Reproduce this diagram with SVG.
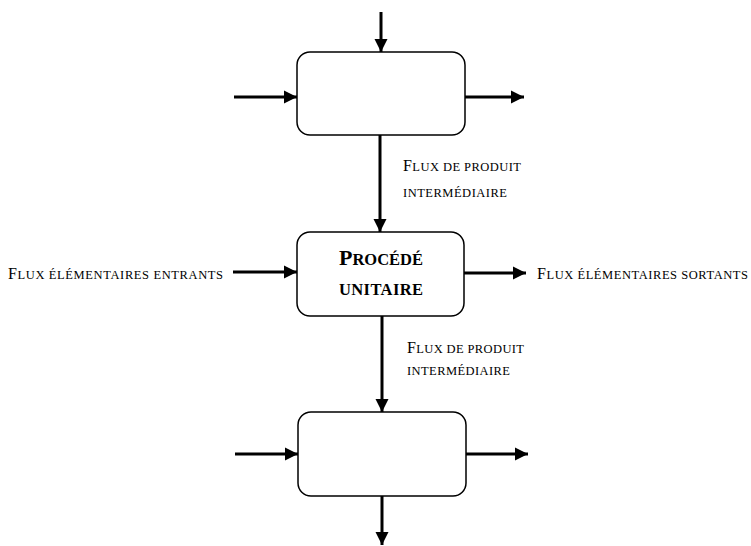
<svg xmlns="http://www.w3.org/2000/svg" width="751" height="546" viewBox="0 0 751 546">
  <style>
    .box { fill: #ffffff; stroke: #000000; stroke-width: 1.5; }
    .flow { stroke: #000000; stroke-width: 3; fill: none; marker-end: url(#arrow); }
    .lbl { font-family: "Liberation Serif", "Times New Roman", serif; font-size: 16px; fill: #000000; }
    .lbl .sc { font-size: 12.5px; }
    .title { font-family: "Liberation Serif", "Times New Roman", serif; font-size: 22px; font-weight: bold; fill: #000000; }
    .title .sc { font-size: 16.5px; }
  </style>
  <defs>
    <marker id="arrow" viewBox="0 0 10 10" refX="10" refY="5" markerWidth="4.5" markerHeight="4.5" markerUnits="strokeWidth" orient="auto">
      <path d="M0,0 L10,5 L0,10 Z" fill="#000000"/>
    </marker>
  </defs>

  <g id="connectors">
    <!-- upstream process -->
    <line class="flow" x1="381" y1="12" x2="381" y2="52"/>
    <line class="flow" x1="234" y1="97" x2="297" y2="97"/>
    <line class="flow" x1="465" y1="97" x2="524" y2="97"/>
    <!-- intermediate flow into unit process -->
    <line class="flow" x1="380" y1="135" x2="380" y2="232"/>
    <!-- unit process elementary flows -->
    <line class="flow" x1="233" y1="272" x2="297" y2="272"/>
    <line class="flow" x1="464" y1="273" x2="526" y2="273"/>
    <!-- intermediate flow out of unit process -->
    <line class="flow" x1="382" y1="316" x2="382" y2="412"/>
    <!-- downstream process -->
    <line class="flow" x1="235" y1="454" x2="298" y2="454"/>
    <line class="flow" x1="466" y1="454" x2="528" y2="454"/>
    <line class="flow" x1="382" y1="496" x2="382" y2="545"/>
  </g>

  <g id="process-upstream">
    <rect class="box" x="297" y="52" width="168" height="83" rx="13"/>
  </g>

  <g id="process-unit">
    <rect class="box" x="297" y="232" width="167" height="84" rx="13"/>
    <text class="title" x="339" y="265" textLength="84" lengthAdjust="spacing">P<tspan class="sc">ROCÉDÉ</tspan></text>
    <text class="title" x="339" y="295" textLength="84" lengthAdjust="spacing"><tspan class="sc">UNITAIRE</tspan></text>
  </g>

  <g id="process-downstream">
    <rect class="box" x="298" y="412" width="168" height="84" rx="13"/>
  </g>

  <g id="labels">
    <text class="lbl" x="403" y="171" textLength="118" lengthAdjust="spacing">F<tspan class="sc">LUX DE PRODUIT</tspan></text>
    <text class="lbl" x="403" y="197" textLength="104" lengthAdjust="spacing"><tspan class="sc">INTERMÉDIAIRE</tspan></text>
    <text class="lbl" x="407" y="353" textLength="117" lengthAdjust="spacing">F<tspan class="sc">LUX DE PRODUIT</tspan></text>
    <text class="lbl" x="407" y="375" textLength="103" lengthAdjust="spacing"><tspan class="sc">INTERMÉDIAIRE</tspan></text>
    <text class="lbl" x="8" y="279" textLength="215" lengthAdjust="spacing">F<tspan class="sc">LUX ÉLÉMENTAIRES ENTRANTS</tspan></text>
    <text class="lbl" x="537" y="279" textLength="211" lengthAdjust="spacing">F<tspan class="sc">LUX ÉLÉMENTAIRES SORTANTS</tspan></text>
  </g>
</svg>
